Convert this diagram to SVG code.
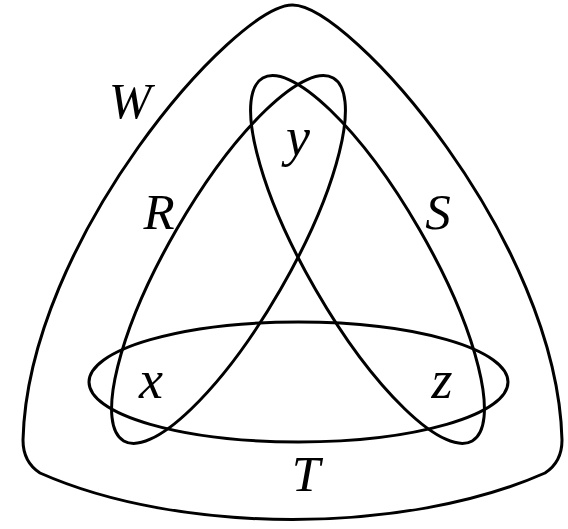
<svg xmlns="http://www.w3.org/2000/svg" width="568" height="529" viewBox="0 0 568 529">
<style>
.set{fill:none;stroke:#000;stroke-width:3}
.lbl{font-family:"Liberation Serif","Times New Roman",serif;font-style:italic;font-size:51px;fill:#000;text-anchor:middle}
.lc{font-size:54px}
</style>
<rect width="568" height="529" fill="#fff"/>
<g id="W">
<path class="set" d="M292.5,5 C235,5 28,240 23,440 Q23,462 40,473 C180,535 405,535 545,473 Q562,462 562,440 C557,240 350,5 292.5,5 Z"/>
<text class="lbl" x="130" y="118">W</text>
</g>
<g id="R">
<ellipse class="set" cx="228.5" cy="259.5" rx="209.5" ry="60" transform="rotate(-60 228.5 259.5)"/>
<text class="lbl" x="159" y="229">R</text>
</g>
<g id="S">
<ellipse class="set" cx="367.5" cy="259.5" rx="209.5" ry="60" transform="rotate(60 367.5 259.5)"/>
<text class="lbl" x="438" y="229">S</text>
</g>
<g id="T">
<ellipse class="set" cx="298.5" cy="382" rx="209.5" ry="60"/>
<text class="lbl" x="306" y="491">T</text>
</g>
<g id="elements">
<text class="lbl lc" x="298" y="155">y</text>
<text class="lbl lc" x="151" y="398">x</text>
<text class="lbl lc" x="442" y="398">z</text>
</g>
<g id="connectors"></g>
</svg>
